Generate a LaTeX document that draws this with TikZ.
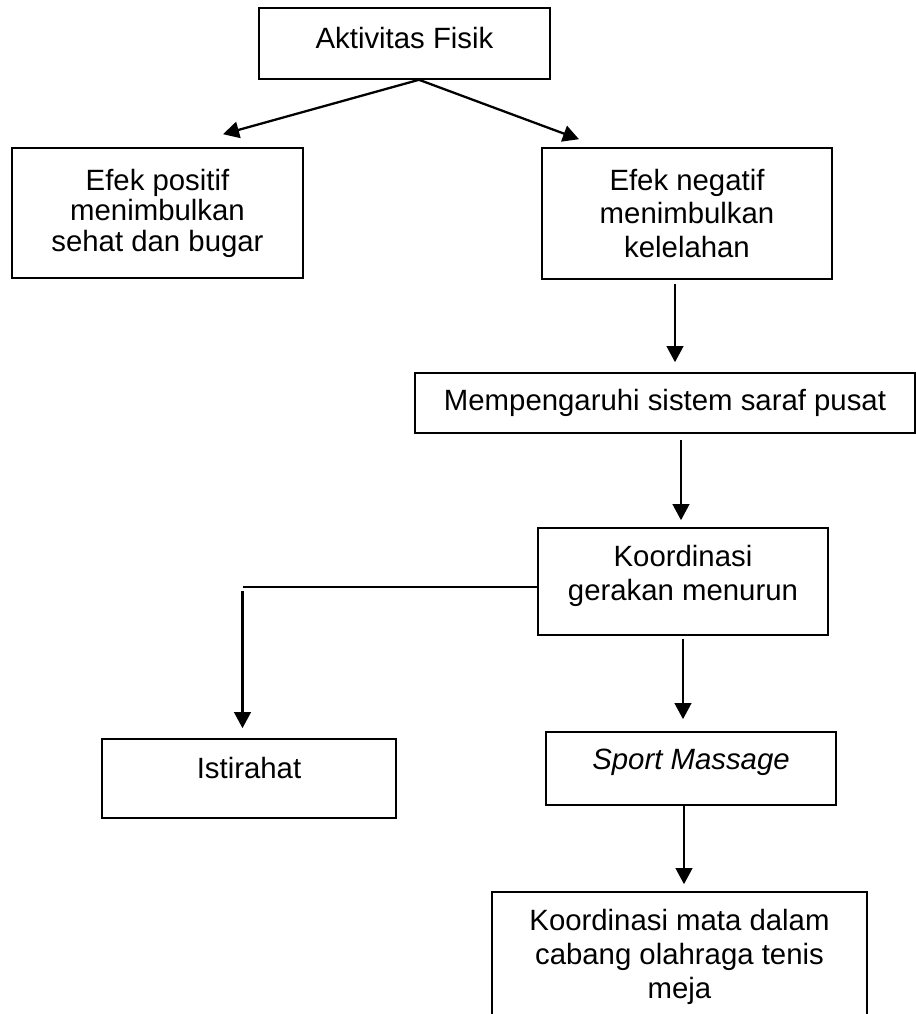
\documentclass[tikz,border=0pt]{standalone}
\usepackage{fontspec}
\setmainfont{Liberation Sans}
\usetikzlibrary{positioning,arrows.meta,calc}

\begin{document}
\begin{tikzpicture}[font=\fontsize{16.7}{19.2}\selectfont]
    \tikzset{
        mybox/.style = {rectangle, line width=0.9pt, align=center, inner sep=0pt, draw=black, fill=white},
        arrow/.style = {line width=1.3pt, -{Triangle[width=0.33cm, length=0.32cm]}},
        link/.style = {line width=0.8pt},
    }
    \useasboundingbox (0,0) rectangle (18.32,-20.28);

    \node (akt) [mybox, minimum width=5.82cm, minimum height=1.42cm, text depth=0.24cm] at (8.09,-0.87) {Aktivitas Fisik};
    \node (pos) [mybox, minimum width=5.82cm, minimum height=2.6cm, font=\fontsize{16.7}{17.4}\selectfont] at (3.15,-4.26) {Efek positif\\menimbulkan\\sehat dan bugar};
    \node (neg) [mybox, minimum width=5.8cm, minimum height=2.62cm] at (13.74,-4.27) {Efek negatif\\menimbulkan\\kelelahan};
    \node (saraf) [mybox, minimum width=10cm, minimum height=1.2cm] at (13.30,-8.06) {Mempengaruhi sistem saraf pusat};
    \node (koor) [mybox, minimum width=5.8cm, minimum height=2.14cm, text depth=0.36cm] at (13.66,-11.63) {Koordinasi\\gerakan menurun};
    \node (ist) [mybox, minimum width=5.88cm, minimum height=1.58cm, text depth=0.44cm] at (4.98,-15.57) {Istirahat};
    \node (mas) [mybox, minimum width=5.8cm, minimum height=1.46cm, text depth=0.38cm] at (13.82,-15.37) {\textit{Sport Massage}};
    \node (hasil) [mybox, minimum width=7.5cm, minimum height=2.6cm] at (13.59,-19.14) {Koordinasi mata dalam\\cabang olahraga tenis\\meja};

    % cabang dari aktivitas fisik
    \coordinate (pangkal) at ($(akt.south)+(0.29,0)$);
    \draw [arrow] (pangkal) -- ($(pos.north)+(1.31,0.26)$);
    \draw [arrow] (pangkal) -- ($(neg.north)+(-2.16,0.16)$);

    \coordinate (c1) at ($(neg.south)+(-0.24,0)$);
    \draw [arrow, shorten <=0.08cm, shorten >=0.2cm] (c1) -- (c1 |- saraf.north);
    \coordinate (c2) at ($(koor.north)+(-0.04,0)$);
    \draw [arrow, shorten <=0.12cm, shorten >=0.14cm] (c2 |- saraf.south) -- (c2);

    % ke istirahat
    \coordinate (belok) at ($(ist.north |- koor.west)+(-0.13,-0.11)$);
    \draw [link] ($(koor.west)+(0,-0.11)$) -- (belok);
    \draw [arrow, shorten <=0.08cm, shorten >=0.2cm] (belok) -- (belok |- ist.north);

    \draw [arrow, shorten <=0.06cm, shorten >=0.24cm] (koor.south) -- (koor.south |- mas.north);
    \coordinate (c3) at ($(mas.south)+(-0.14,0)$);
    \draw [arrow, shorten <=-0.04cm, shorten >=0.14cm] (c3) -- (c3 |- hasil.north);
\end{tikzpicture}
\end{document}
